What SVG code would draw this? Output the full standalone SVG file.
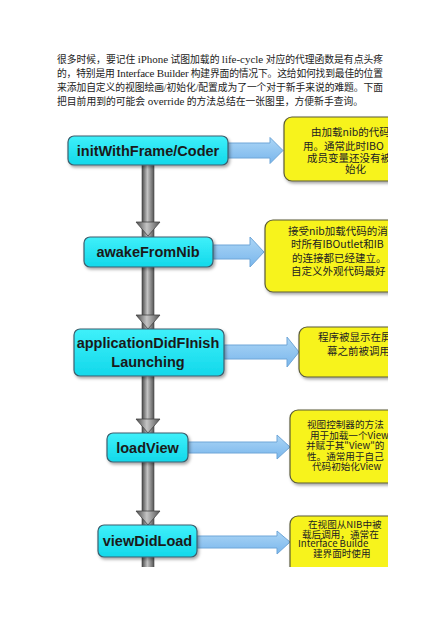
<svg xmlns="http://www.w3.org/2000/svg" width="440" height="620" viewBox="0 0 440 620">
<defs>
<style>
.para{font-family:"Liberation Serif","Noto Sans CJK SC",serif;font-size:9.8px;fill:#222}
.para .l{font-size:11px}
.node rect{fill:url(#cyan);stroke:#3d5f6e;stroke-width:1.2}
.node text{font-family:"Liberation Sans",Arial,sans-serif;font-weight:bold;font-size:14.5px;fill:#1a1a1a;text-anchor:middle}
.note rect{fill:#f7f31a;stroke:#5a5a3a;stroke-width:1.2}
.note text{font-family:"Noto Sans CJK SC","Liberation Sans",sans-serif;font-size:10.5px;fill:#222}
.note .s{font-size:9.6px}
.blue{fill:url(#blueg);stroke:#6fa6d8;stroke-width:1}
.ghead{fill:url(#grayg);stroke:#444;stroke-width:0.8}
</style>
<linearGradient id="cyan" x1="0" y1="0" x2="0" y2="1">
<stop offset="0" stop-color="#3ff0fa"/><stop offset="1" stop-color="#12d8ea"/>
</linearGradient>
<linearGradient id="grayg" x1="0" y1="0" x2="1" y2="0">
<stop offset="0" stop-color="#4a4a4a"/><stop offset="0.45" stop-color="#c4c4c4"/><stop offset="1" stop-color="#555"/>
</linearGradient>
<linearGradient id="blueg" x1="0" y1="0" x2="0" y2="1">
<stop offset="0" stop-color="#acd6f6"/><stop offset="1" stop-color="#79b6ec"/>
</linearGradient>
<filter id="sh" x="-10%" y="-10%" width="130%" height="140%">
<feDropShadow dx="1.5" dy="2" stdDeviation="1.5" flood-color="#000" flood-opacity="0.35"/>
</filter>
<clipPath id="clip"><rect x="60" y="112" width="328" height="455"/></clipPath>
</defs>
<rect width="440" height="620" fill="#fff"/>
<g id="paragraph">
<text class="para" x="57" y="63" textLength="326" lengthAdjust="spacing">很多时候，要记住 <tspan class="l">iPhone</tspan> 试图加载的 <tspan class="l">life-cycle</tspan> 对应的代理函数是有点头疼</text>
<text class="para" x="57" y="77" textLength="326" lengthAdjust="spacing">的，特别是用 <tspan class="l">Interface Builder</tspan> 构建界面的情况下。这给如何找到最佳的位置</text>
<text class="para" x="57" y="91" textLength="326" lengthAdjust="spacing">来添加自定义的视图绘画/初始化/配置成为了一个对于新手来说的难题。下面</text>
<text class="para" x="57" y="105">把目前用到的可能会 <tspan class="l">override</tspan> 的方法总结在一张图里，方便新手查询。</text>
</g>
<g clip-path="url(#clip)">
<g id="connectors">
<rect x="142" y="160" width="12" height="410" fill="url(#grayg)" stroke="#444" stroke-width="0.6"/>
<path class="ghead" d="M136,222 H160 L148,236 Z"/>
<path class="ghead" d="M136,315 H160 L148,329 Z"/>
<path class="ghead" d="M136,419 H160 L148,433 Z"/>
<path class="ghead" d="M136,511 H160 L148,525 Z"/>
<path class="blue" d="M228,143 H270 V137.5 L283,150.5 L270,163.5 V158 H228 Z"/>
<path class="blue" d="M213,245 H250 V237 L264,252 L250,267 V259 H213 Z"/>
<path class="blue" d="M224,345 H287 V337 L299,352 L287,367 V359 H224 Z"/>
<path class="blue" d="M188,442 H277 V435 L290,447 L277,459 V453 H188 Z"/>
<path class="blue" d="M197,536 H277 V531 L290,542 L277,554 V548 H197 Z"/>
</g>
<g id="node1" class="node"><rect x="68" y="136" width="160" height="29" rx="6" filter="url(#sh)"/><text x="148" y="156">initWithFrame/Coder</text></g>
<g id="node2" class="node"><rect x="84" y="237" width="129" height="30" rx="6" filter="url(#sh)"/><text x="148" y="257">awakeFromNib</text></g>
<g id="node3" class="node"><rect x="74" y="329" width="150" height="47" rx="6" filter="url(#sh)"/><text x="148" y="348">applicationDidFInish</text><text x="148" y="367">Launching</text></g>
<g id="node4" class="node"><rect x="107" y="433" width="81" height="29" rx="6" filter="url(#sh)"/><text x="147.5" y="453">loadView</text></g>
<g id="node5" class="node"><rect x="98" y="525" width="99" height="32" rx="6" filter="url(#sh)"/><text x="147.5" y="546">viewDidLoad</text></g>
<g id="note1" class="note"><rect x="284" y="117" width="150" height="64" rx="8" filter="url(#sh)"/>
<text x="311" y="136">由加载nib的代码</text><text x="303" y="150">用。通常此时IBO</text><text x="307" y="162">成员变量还没有被</text><text x="345" y="173">始化</text></g>
<g id="note2" class="note"><rect x="265" y="220" width="160" height="72" rx="8" filter="url(#sh)"/>
<text x="288" y="235">接受nib加载代码的消</text><text x="291" y="248">时所有IBOutlet和IB</text><text x="292" y="262">的连接都已经建立。</text><text x="291" y="275">自定义外观代码最好</text></g>
<g id="note3" class="note"><rect x="299" y="327" width="140" height="50" rx="8" filter="url(#sh)"/>
<text x="318" y="341">程序被显示在屏</text><text x="327" y="355">幕之前被调用</text></g>
<g id="note4" class="note"><rect x="290" y="410" width="150" height="73" rx="8" filter="url(#sh)"/>
<text class="s" x="307" y="428">视图控制器的方法</text><text class="s" x="310" y="438.5">用于加载一个View</text><text class="s" x="306" y="449">并赋于其"View"的</text><text class="s" x="307" y="459.5">性。通常用于自己</text><text class="s" x="312" y="470">代码初始化View</text></g>
<g id="note5" class="note"><rect x="290" y="516" width="150" height="70" rx="8" filter="url(#sh)"/>
<text class="s" x="308" y="528">在视图从NIB中被</text><text class="s" x="302" y="537.5">载后调用，通常在</text><text class="s" x="298" y="547">Interface Builde</text><text class="s" x="313" y="556.5">建界面时使用</text></g>
</g>
</svg>
